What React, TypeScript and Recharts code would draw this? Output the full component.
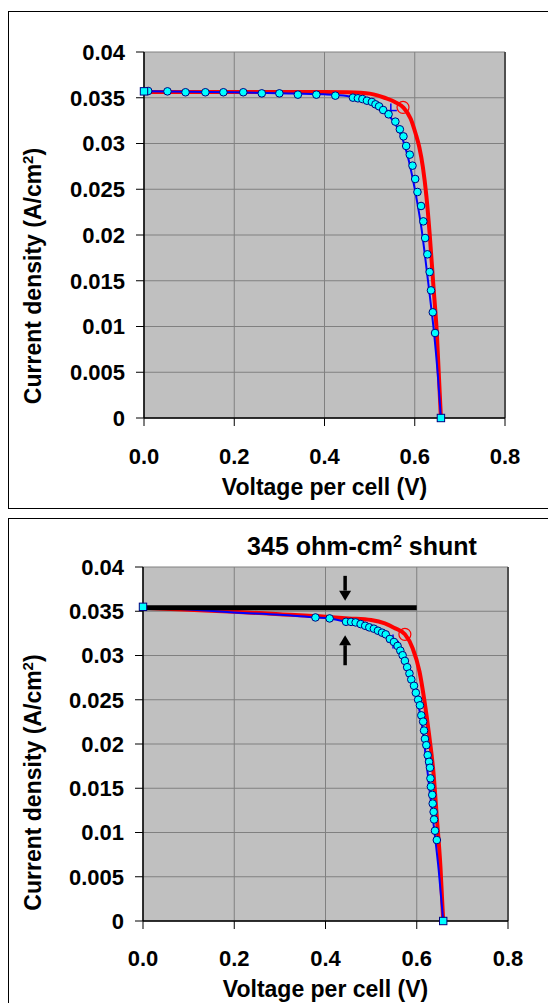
import React from "react";
import {
  ComposedChart,
  Line,
  Scatter,
  XAxis,
  YAxis,
  CartesianGrid,
  ReferenceLine,
} from "recharts";

const xTicks = [0, 0.2, 0.4, 0.6, 0.8];
const yTicks = [0, 0.005, 0.01, 0.015, 0.02, 0.025, 0.03, 0.035, 0.04];

// top panel: ideal curve (red), fit (blue), measured points
const idealV1 = [0, 0.1, 0.2, 0.3, 0.4, 0.45, 0.48, 0.5, 0.517, 0.533, 0.556, 0.575, 0.591, 0.602, 0.61, 0.618, 0.626, 0.633, 0.641, 0.649, 0.658];
const idealJ1 = [0.03563, 0.03563, 0.03563, 0.03563, 0.03562, 0.0356, 0.03555, 0.03545, 0.03526, 0.035, 0.03454, 0.03392, 0.03271, 0.03107, 0.02962, 0.02743, 0.02415, 0.02015, 0.01468, 0.00922, 0];
const fitV1 = [0, 0.1, 0.2, 0.3, 0.4, 0.45, 0.48, 0.5, 0.52, 0.535, 0.55, 0.563, 0.575, 0.585, 0.595, 0.605, 0.615, 0.625, 0.634, 0.643, 0.651, 0.658];
const fitJ1 = [0.0357, 0.03565, 0.0356, 0.0355, 0.03538, 0.0352, 0.03495, 0.0346, 0.03405, 0.03345, 0.0326, 0.0316, 0.0302, 0.0285, 0.0263, 0.0237, 0.0207, 0.0168, 0.0131, 0.0092, 0.0048, 0];
const measV1 = [0.0093, 0.052, 0.092, 0.136, 0.176, 0.22, 0.261, 0.3, 0.341, 0.382, 0.424, 0.463, 0.474, 0.484, 0.494, 0.505, 0.513, 0.521, 0.53, 0.542, 0.557, 0.567, 0.575, 0.581, 0.589, 0.595, 0.601, 0.606, 0.614, 0.619, 0.623, 0.628, 0.633, 0.636, 0.64, 0.645];
const measJ1 = [0.03574, 0.0357, 0.0356, 0.0356, 0.0356, 0.0356, 0.03548, 0.03548, 0.03534, 0.03534, 0.03523, 0.03501, 0.03494, 0.03486, 0.03468, 0.03454, 0.03428, 0.03406, 0.03366, 0.03319, 0.03239, 0.03155, 0.03078, 0.02973, 0.02878, 0.02758, 0.02612, 0.0247, 0.02317, 0.02149, 0.01967, 0.01789, 0.01596, 0.01395, 0.01155, 0.00929];
const endV1 = [0, 0.658];
const endJ1 = [0.0357, 0];
const mppIdeal1 = { v: 0.574, j: 0.03395 };
const mppFit1 = { v: 0.547, j: 0.0336 };

// bottom panel: 345 ohm-cm2 shunt
const idealV2 = [0, 0.1, 0.2, 0.3, 0.4, 0.45, 0.5, 0.53, 0.55, 0.574, 0.591, 0.606, 0.617, 0.627, 0.637, 0.644, 0.652, 0.658];
const idealJ2 = [0.03539, 0.03516, 0.03494, 0.03466, 0.03438, 0.03419, 0.034, 0.03363, 0.03314, 0.03239, 0.03082, 0.02819, 0.02482, 0.02107, 0.01657, 0.0117, 0.00607, 0];
const fitV2 = [0, 0.1, 0.2, 0.3, 0.378, 0.409, 0.445, 0.48, 0.51, 0.535, 0.555, 0.57, 0.583, 0.594, 0.602, 0.612, 0.621, 0.63, 0.639, 0.648, 0.658];
const fitJ2 = [0.0355, 0.0352, 0.03486, 0.0346, 0.0343, 0.03419, 0.0338, 0.03345, 0.033, 0.0323, 0.0313, 0.0299, 0.0281, 0.0264, 0.0248, 0.022, 0.018, 0.014, 0.01, 0.0058, 0];
const measV2 = [0.378, 0.409, 0.445, 0.456, 0.466, 0.477, 0.487, 0.496, 0.506, 0.515, 0.524, 0.532, 0.541, 0.55, 0.558, 0.564, 0.569, 0.574, 0.579, 0.584, 0.588, 0.594, 0.598, 0.603, 0.607, 0.61, 0.614, 0.616, 0.618, 0.621, 0.624, 0.627, 0.629, 0.63, 0.631, 0.634, 0.635, 0.637, 0.638, 0.64, 0.644];
const measJ2 = [0.0343, 0.03419, 0.03381, 0.0338, 0.03374, 0.03355, 0.03336, 0.03318, 0.03303, 0.0328, 0.03258, 0.03239, 0.03187, 0.03153, 0.03108, 0.03055, 0.03003, 0.02939, 0.02868, 0.02797, 0.02729, 0.02658, 0.02579, 0.025, 0.02437, 0.02324, 0.02253, 0.02152, 0.02058, 0.01987, 0.01874, 0.01799, 0.01732, 0.01612, 0.01518, 0.01425, 0.01327, 0.01233, 0.01147, 0.0102, 0.00915];
const endV2 = [0, 0.658];
const endJ2 = [0.0355, 0];
const mppIdeal2 = { v: 0.574, j: 0.03239 };
const mppFit2 = { v: 0.548, j: 0.03157 };
const shuntV = [0, 0.6];
const shuntJ = [0.0354, 0.0354];
const arrowX = 0.443;
const arrowDown = [0.039, 0.0362];
const arrowUp = [0.0289, 0.0323];

const zip = (v: number[], j: number[]) => v.map((x, i) => ({ v: x, j: j[i] }));

const FONT = '"Liberation Sans", Arial, Helvetica, sans-serif';
const textStyle = { fill: "#000", fontSize: 22, fontWeight: "bold" as const, fontFamily: FONT };
const titleStyle = { ...textStyle, fontSize: 23 };

const Dot = (p: any) => (
  <circle cx={p.cx} cy={p.cy} r={3.8} fill="#00ffff" stroke="#000080" strokeWidth={1} />
);
const Square = (p: any) => (
  <rect x={p.cx - 3.7} y={p.cy - 3.7} width={7.4} height={7.4} fill="#00ffff" stroke="#000080" strokeWidth={1} />
);
const RedRing = (p: any) => (
  <circle cx={p.cx} cy={p.cy} r={6} fill="none" stroke="#ff0000" strokeWidth={1.2} />
);
const BluePlus = (p: any) => (
  <g stroke="#0000ff" strokeWidth={1.5}>
    <line x1={p.cx - 6} y1={p.cy} x2={p.cx + 6} y2={p.cy} />
    <line x1={p.cx} y1={p.cy - 7} x2={p.cx} y2={p.cy + 7} />
  </g>
);

const Arrow = (p: any) => {
  const { x1, y1, x2, y2 } = p;
  const dir = y2 > y1 ? 1 : -1;
  const headLen = 10;
  const yb = y2 - dir * headLen;
  return (
    <g>
      <line x1={x1} y1={y1} x2={x2} y2={yb} stroke="#000" strokeWidth={3.5} />
      <polygon points={`${x2 - 6},${yb} ${x2 + 6},${yb} ${x2},${y2}`} fill="#000" />
    </g>
  );
};

type PanelProps = {
  height: number;
  margin: { top: number; right: number; bottom: number; left: number };
  ideal: { v: number; j: number }[];
  fit: { v: number; j: number }[];
  meas: { v: number; j: number }[];
  ends: { v: number; j: number }[];
  mppIdeal: { v: number; j: number };
  mppFit: { v: number; j: number };
  yTitleY: number;
  xTitleOffset: number;
  xTickMargin: number;
  title?: boolean;
  shunt?: boolean;
};

function Panel(props: PanelProps) {
  const { height, margin, ideal, fit, meas, ends, mppIdeal, mppFit, yTitleY, xTitleOffset, xTickMargin } = props;
  return (
    <ComposedChart width={548} height={height} margin={margin}>
      <CartesianGrid stroke="#808080" fill="#c0c0c0" horizontalValues={yTicks} verticalValues={xTicks} />
      <XAxis
        type="number"
        dataKey="v"
        domain={[0, 0.8]}
        ticks={xTicks}
        tickFormatter={(t: number) => t.toFixed(1)}
        tick={textStyle}
        tickSize={8}
        tickMargin={xTickMargin}
        height={80}
        axisLine={{ stroke: "#000", strokeWidth: 1.5 }}
        tickLine={{ stroke: "#000" }}
        label={{
          content: (lp: any) => (
            <text
              x={lp.viewBox.x + lp.viewBox.width / 2}
              y={lp.viewBox.y + xTitleOffset}
              textAnchor="middle"
              {...titleStyle}
            >
              Voltage per cell (V)
            </text>
          ),
        }}
      />
      <YAxis
        type="number"
        domain={[0, 0.04]}
        ticks={yTicks}
        tickFormatter={(t: number) => String(t)}
        tick={textStyle}
        tickSize={8}
        tickMargin={11}
        width={100}
        axisLine={{ stroke: "#000", strokeWidth: 1.5 }}
        tickLine={{ stroke: "#000" }}
        label={{
          content: () => (
            <text
              x={0}
              y={0}
              transform={`translate(40.5, ${yTitleY}) rotate(-90)`}
              textAnchor="middle"
              {...titleStyle}
            >
              Current density (A/cm<tspan baselineShift="super" fontSize={15}>2</tspan>)
            </text>
          ),
        }}
      />
      <ReferenceLine x={0.8} stroke="#505050" strokeWidth={2} />
      <Line data={ideal} dataKey="j" type="monotone" stroke="#ff0000" strokeWidth={4} dot={false} activeDot={false} isAnimationActive={false} />
      <Line data={fit} dataKey="j" type="monotone" stroke="#0000ff" strokeWidth={2} dot={false} activeDot={false} isAnimationActive={false} />
      {props.shunt && (
        <Line data={zip(shuntV, shuntJ)} dataKey="j" type="linear" stroke="#000" strokeWidth={5} dot={false} activeDot={false} isAnimationActive={false} />
      )}
      {props.shunt && (
        <ReferenceLine segment={[{ x: arrowX, y: arrowDown[0] }, { x: arrowX, y: arrowDown[1] }]} shape={Arrow} />
      )}
      {props.shunt && (
        <ReferenceLine segment={[{ x: arrowX, y: arrowUp[0] }, { x: arrowX, y: arrowUp[1] }]} shape={Arrow} />
      )}
      <Scatter data={[mppFit]} dataKey="j" shape={BluePlus} isAnimationActive={false} />
      <Scatter data={meas} dataKey="j" shape={Dot} isAnimationActive={false} />
      <Scatter data={ends} dataKey="j" shape={Square} isAnimationActive={false} />
      <Scatter data={[mppIdeal]} dataKey="j" shape={RedRing} isAnimationActive={false} />
      {props.title && (
        <text x={362} y={45} textAnchor="middle" {...textStyle} fontSize={25}>
          345 ohm-cm<tspan baselineShift="super" fontSize={16}>2</tspan> shunt
        </text>
      )}
    </ComposedChart>
  );
}

export default function App() {
  return (
    <div style={{ position: "relative", width: 548, height: 1003, overflow: "hidden", background: "#fff" }}>
      <style>{"body{margin:0}"}</style>
      <div style={{ position: "absolute", left: 8, top: 11, width: 600, height: 498, border: "1.5px solid #000", boxSizing: "border-box" }} />
      <div style={{ position: "absolute", left: 8, top: 518, width: 600, height: 600, border: "1.5px solid #000", boxSizing: "border-box" }} />
      <div style={{ position: "absolute", left: 0, top: 0 }}>
        <Panel
          height={510}
          margin={{ top: 52, right: 43, bottom: 12, left: 44 }}
          ideal={zip(idealV1, idealJ1)}
          fit={zip(fitV1, fitJ1)}
          meas={zip(measV1, measJ1)}
          ends={zip(endV1, endJ1)}
          mppIdeal={mppIdeal1}
          mppFit={mppFit1}
          yTitleY={276}
          xTitleOffset={77}
          xTickMargin={22}
        />
      </div>
      <div style={{ position: "absolute", left: 0, top: 510 }}>
        <Panel
          height={493}
          margin={{ top: 57, right: 40, bottom: 2, left: 43 }}
          ideal={zip(idealV2, idealJ2)}
          fit={zip(fitV2, fitJ2)}
          meas={zip(measV2, measJ2)}
          ends={zip(endV2, endJ2)}
          mppIdeal={mppIdeal2}
          mppFit={mppFit2}
          yTitleY={272.5}
          xTitleOffset={76}
          xTickMargin={21}
          title
          shunt
        />
      </div>
    </div>
  );
}
